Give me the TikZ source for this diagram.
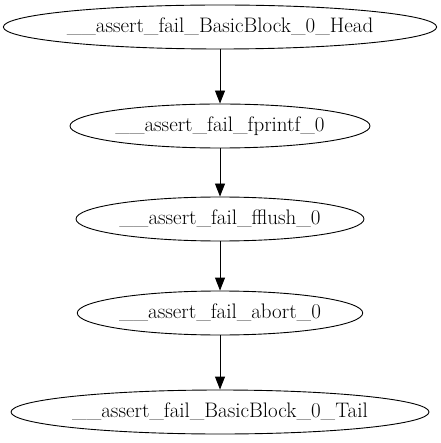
\documentclass[tikz,border=0pt]{standalone}
\usepackage{tikz}
\usetikzlibrary{arrows.meta, shapes.geometric}

\begin{document}
\begin{tikzpicture}[x=1pt, y=-1pt, >={Triangle[length=13pt, width=10pt]},
    block/.style={ellipse, draw, line width=0.9pt, inner sep=0pt,
      minimum height=44pt, font=\fontsize{21}{24}\selectfont}]
  \useasboundingbox (0,0) rectangle (440,443);
  % Nodes (one per basic block call)
  \node[block, minimum width=432pt] (head)    at (220,27)  {\_\_assert\_fail\_BasicBlock\_0\_Head};
  \node[block, minimum width=300pt] (fprintf) at (220,126) {\_\_assert\_fail\_fprintf\_0};
  \node[block, minimum width=288pt] (fflush)  at (220,219) {\_\_assert\_fail\_fflush\_0};
  \node[block, minimum width=283pt] (abort)   at (220,313) {\_\_assert\_fail\_abort\_0};
  \node[block, minimum width=412pt] (tail)    at (220,412) {\_\_assert\_fail\_BasicBlock\_0\_Tail};
  % Edges
  \draw[->, line width=0.9pt] (head) -- (fprintf);
  \draw[->, line width=0.9pt] (fprintf) -- (fflush);
  \draw[->, line width=0.9pt] (fflush) -- (abort);
  \draw[->, line width=0.9pt] (abort) -- (tail);
\end{tikzpicture}
\end{document}
